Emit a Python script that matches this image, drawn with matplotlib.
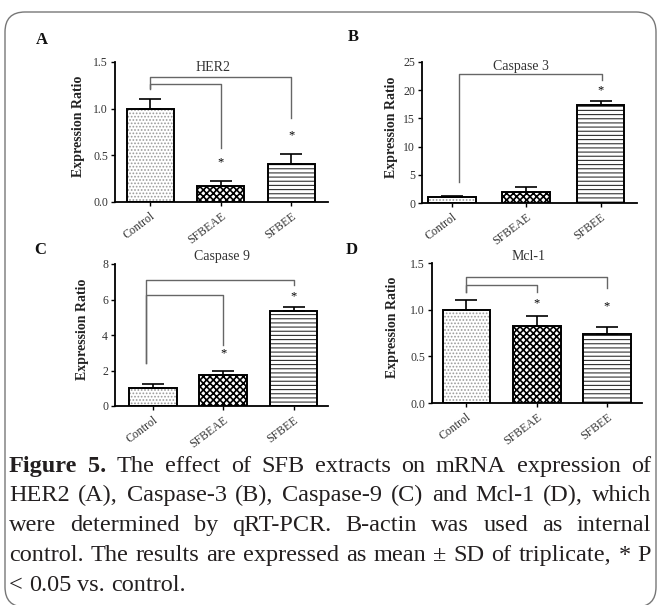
import matplotlib
matplotlib.use('Agg')
import matplotlib.pyplot as plt
from matplotlib.patches import FancyBboxPatch
from matplotlib.transforms import IdentityTransform

plt.rcParams['font.family'] = 'Liberation Serif'
plt.rcParams['hatch.linewidth'] = 0.8

groups = ['Control', 'SFBEAE', 'SFBEE']

her2_mean = [1.00, 0.17, 0.41]
her2_sd = [0.10, 0.05, 0.10]
casp3_mean = [1.05, 1.90, 17.3]
casp3_sd = [0.25, 1.00, 0.70]
casp9_mean = [1.00, 1.74, 5.36]
casp9_sd = [0.24, 0.22, 0.24]
mcl1_mean = [1.00, 0.82, 0.74]
mcl1_sd = [0.10, 0.11, 0.07]

# brackets: x from, x to, top, left leg end, right leg end
her2_brackets = [(0, 2, 1.34, 1.22, 0.90), (0, 1, 1.26, 1.21, 0.58)]
casp3_brackets = [(0.1, 2.02, 22.9, 3.8, 21.8)]
casp9_brackets = [(-0.1, 2.0, 7.1, 2.43, 6.83), (-0.1, 1.0, 6.23, 2.43, 3.43)]
mcl1_brackets = [(0, 2, 1.35, 1.19, 1.23), (0, 1, 1.26, 1.19, 1.19)]

# stars: x, y
her2_stars = [(1, 0.43), (2, 0.71)]
casp3_stars = [(2, 20.0)]
casp9_stars = [(1, 2.96), (2, 6.2)]
mcl1_stars = [(1, 1.07), (2, 1.04)]

caption_lines = [
    'Figure 5. The effect of SFB extracts on mRNA expression of',
    'HER2 (A), Caspase-3 (B), Caspase-9 (C) and Mcl-1 (D), which',
    'were determined by qRT-PCR. B-actin was used as internal',
    'control. The results are expressed as mean \u00b1 SD of triplicate, * P',
    '< 0.05 vs. control.',
]

W, H = 657, 605
fig = plt.figure(figsize=(W / 100, H / 100), dpi=100)


def px_axes(x0, y_bottom, x1, y_top):
    return fig.add_axes([x0 / W, 1 - y_bottom / H, (x1 - x0) / W, (y_bottom - y_top) / H])


hatches = ['.....', 'xxxxx', '----']
hatch_cols = ['#9a9a9a', 'black', '#333333']
txt = '#333333'


def panel(ax, mean, sd, title, title_xy, ymax, yticks, fmt, xlim, width,
          brackets, stars, ylab_x):
    x = range(len(groups))
    for i in x:
        b = ax.bar(i, mean[i], width, color='white', edgecolor=hatch_cols[i],
                   linewidth=0, hatch=hatches[i], zorder=2)
        if i == 1:
            for p in b:
                if hasattr(p, 'set_hatch_linewidth'):
                    p.set_hatch_linewidth(1.2)
        ax.bar(i, mean[i], width, fill=False, edgecolor='black', linewidth=1.4, zorder=3)
    ax.errorbar(list(x), mean, yerr=[[0] * 3, sd], fmt='none', ecolor='black',
                elinewidth=1.2, capsize=8, capthick=1.2, zorder=4)
    for (a, b_, top, lo_l, lo_r) in brackets:
        ax.plot([a, a, b_, b_], [lo_l, top, top, lo_r], color='#666666', lw=1.0,
                clip_on=False, zorder=1)
    for (sx, sy) in stars:
        ax.text(sx, sy, '*', ha='center', va='center', fontsize=9, color='black')
    ax.set_xlim(*xlim)
    ax.set_ylim(0, ymax)
    ax.set_yticks(yticks)
    ax.set_yticklabels([fmt % v for v in yticks])
    ax.set_xticks(list(x))
    ax.set_xticklabels(groups, rotation=37, ha='right', rotation_mode='anchor')
    ax.tick_params(axis='y', labelsize=8.5, labelcolor=txt, length=3, width=1.0,
                   direction='out', pad=2)
    ax.tick_params(axis='x', labelsize=8.5, labelcolor=txt, length=3, width=1.0,
                   direction='out', pad=3)
    for s in ['top', 'right']:
        ax.spines[s].set_visible(False)
    for s in ['left', 'bottom']:
        ax.spines[s].set_linewidth(1.3)
    ax.set_ylabel('Expression Ratio', fontsize=10, fontweight='bold', color='#222222')
    ax.yaxis.set_label_coords(ylab_x, 0.54)
    ax.text(title_xy[0], title_xy[1], title, transform=ax.transAxes, ha='center',
            va='center', fontsize=10, color=txt)


axA = px_axes(115, 202, 328, 62)
panel(axA, her2_mean, her2_sd, 'HER2', (0.46, 0.96), 1.5, [0, 0.5, 1.0, 1.5], '%.1f',
      (-0.5, 2.52), 0.67, her2_brackets, her2_stars, -0.14)

axB = px_axes(422, 203, 637, 62)
panel(axB, casp3_mean, casp3_sd, 'Caspase 3', (0.46, 0.97), 25, [0, 5, 10, 15, 20, 25], '%d',
      (-0.4, 2.49), 0.64, casp3_brackets, casp3_stars, -0.11)

axC = px_axes(115, 406, 328, 264)
panel(axC, casp9_mean, casp9_sd, 'Caspase 9', (0.50, 1.05), 8, [0, 2, 4, 6, 8], '%d',
      (-0.54, 2.49), 0.68, casp9_brackets, casp9_stars, -0.12)

axD = px_axes(432, 403, 642, 263)
panel(axD, mcl1_mean, mcl1_sd, 'Mcl-1', (0.46, 1.045), 1.5, [0, 0.5, 1.0, 1.5], '%.1f',
      (-0.49, 2.5), 0.68, mcl1_brackets, mcl1_stars, -0.155)

for letter, (lx, ly) in zip('ABCD', [(42, 40), (353, 37), (40, 250), (352, 250)]):
    fig.text(lx / W, 1 - ly / H, letter, fontsize=12, fontweight='bold', ha='center',
             va='center', color='#111111')

# rounded frame
frame = FancyBboxPatch((5, -2), 651, H - 12 + 2, boxstyle='round,pad=0,rounding_size=20',
                       transform=IdentityTransform(), fill=False, edgecolor='#777777',
                       linewidth=1.0)
fig.patches.append(frame)

# justified caption
cap_size = 17.5
x_left, x_right = 9, 651
baselines = [472, 501, 531, 561, 591]
fig.canvas.draw()
r = fig.canvas.get_renderer()
for i, line in enumerate(caption_lines):
    words = line.split(' ')
    arts = []
    for j, w in enumerate(words):
        wt = 'bold' if (i == 0 and j < 2) else 'normal'
        arts.append(fig.text(0, 0, w, fontsize=cap_size, fontweight=wt, va='baseline',
                             color='#231f20'))
    widths = [a.get_window_extent(r).width for a in arts]
    if i < len(caption_lines) - 1:
        gap = (x_right - x_left - sum(widths)) / (len(words) - 1)
    else:
        gap = 0.25 * cap_size * 100 / 72
    xx = x_left
    for a, w in zip(arts, widths):
        a.set_position((xx / W, 1 - baselines[i] / H))
        xx += w + gap

fig.savefig('out.png', dpi=100)
